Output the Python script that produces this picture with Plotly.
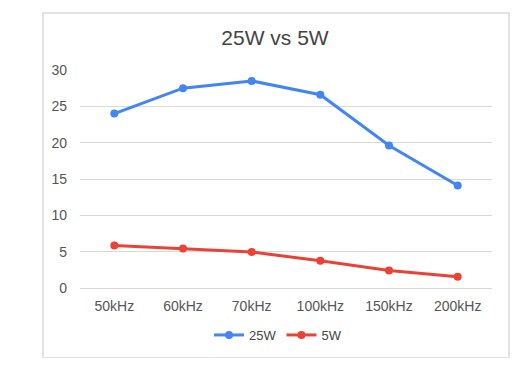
import plotly.graph_objects as go

categories = ["50kHz", "60kHz", "70kHz", "100kHz", "150kHz", "200kHz"]
w25 = [24.0, 27.5, 28.5, 26.6, 19.6, 14.1]
w5 = [5.85, 5.45, 4.95, 3.75, 2.4, 1.55]

BLUE = "#4285F4"
RED = "#EA4335"

# page body has an 8px margin: figure occupies x 8..512, y 8..358 of the window
OX, OY = 8, 8
W, H = 504, 350
PL, PR, PT, PB = 80, 492, 70, 288  # plot area in window pixels
PW, PH = PR - PL, PB - PT

fig = go.Figure()
fig.add_trace(go.Scatter(x=categories, y=w25, name="25W", mode="lines+markers",
                         line=dict(color=BLUE, width=3), marker=dict(size=8, color=BLUE)))
fig.add_trace(go.Scatter(x=categories, y=w5, name="5W", mode="lines+markers",
                         line=dict(color=RED, width=3), marker=dict(size=8, color=RED)))

fig.update_layout(
    width=W, height=H,
    margin=dict(l=PL - OX, r=OX + W - PR, t=PT - OY, b=OY + H - PB, autoexpand=False),
    paper_bgcolor="white", plot_bgcolor="white",
    font=dict(family="Liberation Sans, Arial, sans-serif", color="#555555", size=14),
    title=dict(text="25W vs 5W", x=(275 - OX) / W, xanchor="center",
               y=1 - (38 - OY) / H, yanchor="middle",
               font=dict(size=21, color="#444444")),
    showlegend=True,
    legend=dict(orientation="h", x=(278 - PL) / PW, xanchor="center",
                yref="container", y=1 - (335 - OY) / H, yanchor="middle",
                font=dict(size=13, color="#444444"), itemwidth=30, tracegroupgap=0,
                bgcolor="rgba(0,0,0,0)"),
    xaxis=dict(type="category", range=[-0.5, 5.5], showgrid=False, showline=False,
               ticks="", ticklabelstandoff=8, automargin=False,
               tickfont=dict(size=14, color="#555555")),
    yaxis=dict(range=[0, 30], tickvals=[0, 5, 10, 15, 20, 25, 30], showgrid=True,
               gridcolor="#d9d9d9", gridwidth=1, zeroline=True, zerolinecolor="#d9d9d9",
               zerolinewidth=1, showline=False, ticks="", ticklabelstandoff=12,
               automargin=False, tickfont=dict(size=14, color="#555555")),
    shapes=[dict(type="rect", xref="paper", yref="paper",
                 x0=(43 - PL) / PW, x1=(509 - PL) / PW,
                 y0=(PB - 358) / PH, y1=(PB - 13) / PH,
                 line=dict(color="#d9d9d9", width=1.5), fillcolor="rgba(0,0,0,0)", layer="below")],
)

fig.write_html("out.html")
